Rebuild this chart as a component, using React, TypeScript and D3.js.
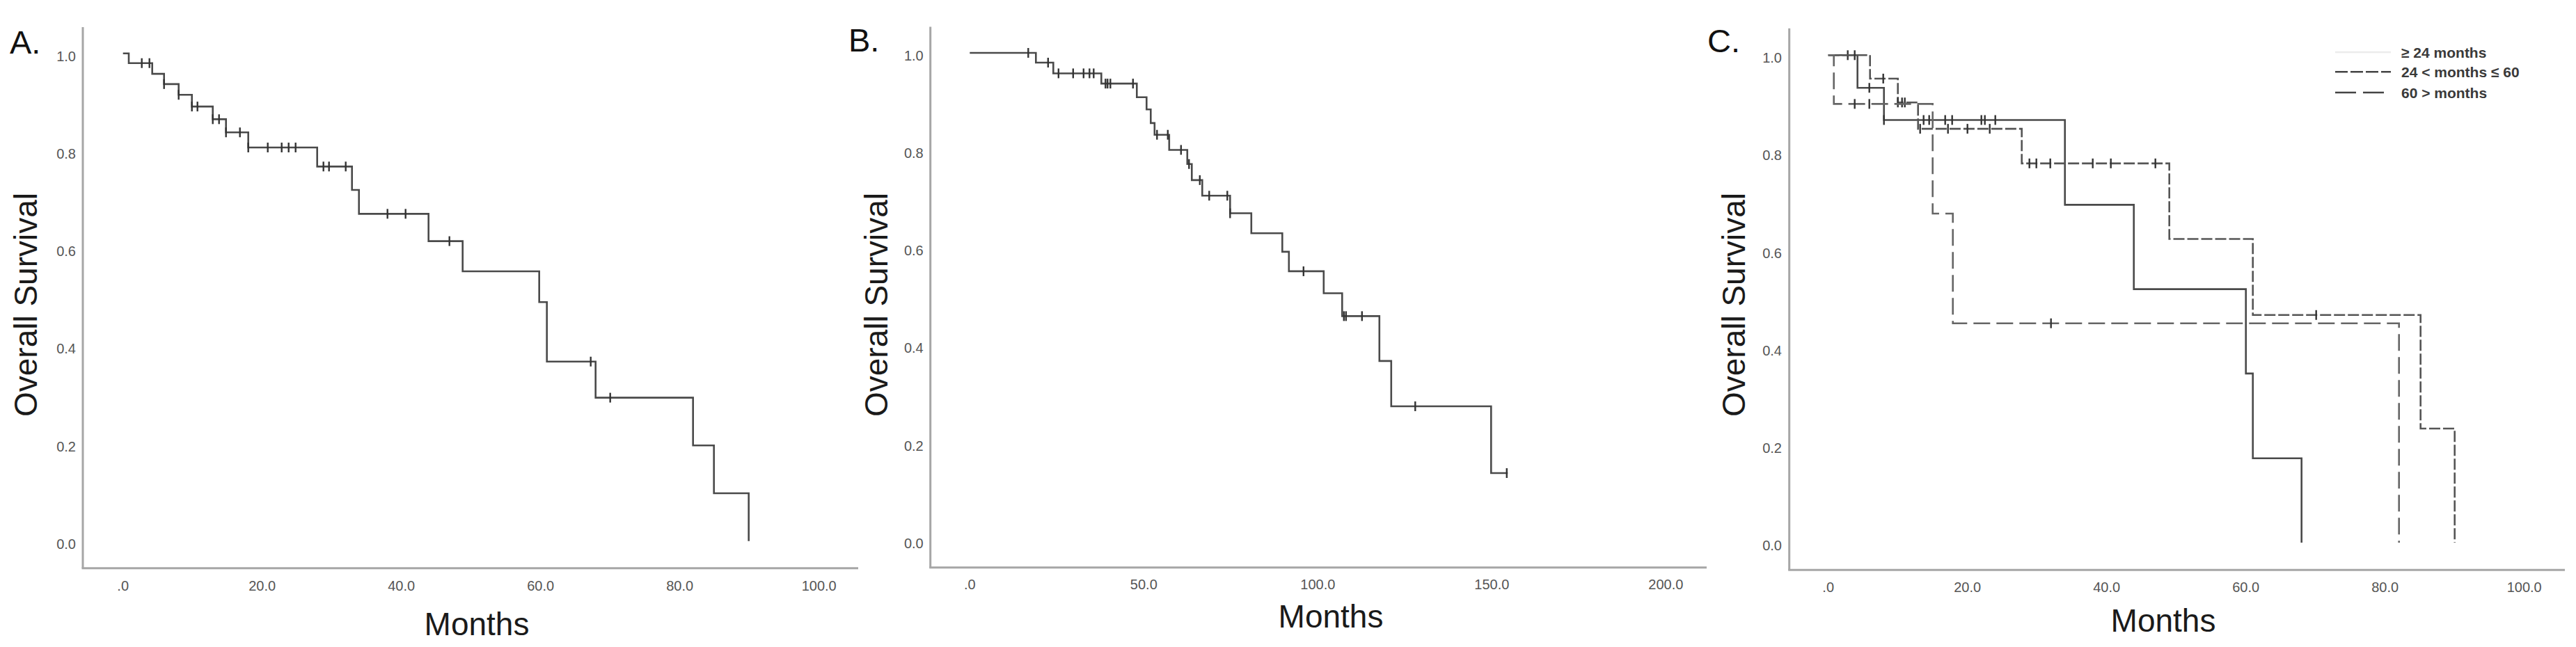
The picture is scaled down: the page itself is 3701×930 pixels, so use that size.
import React from "react";
import * as d3 from "d3";

// ---------- DATA ----------
const yTicks = [0, 0.2, 0.4, 0.6, 0.8, 1.0];
const xTicksA = [0, 20, 40, 60, 80, 100];
const xTicksB = [0, 50, 100, 150, 200];
const xTicksC = [0, 20, 40, 60, 80, 100];

// Panel A
const eventTimesA = [0.83, 4.2, 5.9, 8.0, 9.9, 12.9, 14.8, 18.0, 27.9, 32.9, 33.9, 43.9, 48.8, 59.8, 60.9, 67.9, 81.9, 84.9, 89.9];
const survA = [0.98, 0.958, 0.937, 0.915, 0.891, 0.865, 0.838, 0.807, 0.768, 0.72, 0.671, 0.615, 0.553, 0.49, 0.368, 0.294, 0.196, 0.098, 0.0];
const censorA = [2.7, 3.8, 5.9, 8.0, 9.9, 10.7, 12.9, 13.8, 14.8, 16.8, 18.0, 20.8, 22.8, 23.8, 24.8, 28.8, 29.6, 32.0, 38.0, 40.6, 46.9, 67.2, 70.0];
const endA = 89.9;

// Panel B
const eventTimesB = [19.0, 24.0, 37.8, 48.0, 50.8, 52.0, 53.1, 57.3, 62.5, 63.8, 66.8, 74.8, 80.9, 89.8, 91.7, 101.7, 107.0, 117.7, 121.1, 149.8];
const survB = [0.98, 0.958, 0.937, 0.909, 0.884, 0.856, 0.832, 0.801, 0.772, 0.739, 0.707, 0.671, 0.63, 0.592, 0.552, 0.507, 0.46, 0.368, 0.275, 0.138];
const censorB = [16.8, 22.5, 25.5, 29.7, 32.7, 34.4, 35.6, 39.0, 39.6, 40.4, 46.9, 53.8, 56.9, 60.7, 63.0, 66.1, 68.8, 74.0, 74.8, 95.9, 107.5, 108.1, 112.7, 128.0, 154.3];
const endB = 154.6;

// Panel C
const groupNames = ["\u2265 24 months", "24 < months \u2264 60", "60 > months"];
const eventTimesC1 = [4.2, 8.0, 34.0, 43.9, 60.0, 61.0, 68.0];
const survC1 = [0.933, 0.867, 0.693, 0.52, 0.347, 0.173, 0.0];
const censorC1 = [2.8, 3.8, 5.9, 8.0, 13.7, 14.5, 16.8, 17.8, 22.0, 22.5, 24.0];
const eventTimesC2 = [6.0, 10.0, 12.9, 27.8, 49.0, 61.0, 85.1, 90.0];
const survC2 = [0.952, 0.903, 0.849, 0.778, 0.623, 0.467, 0.234, 0.0];
const censorC2 = [7.9, 10.0, 10.6, 11.0, 13.2, 17.2, 20.0, 23.2, 28.9, 29.9, 31.9, 38.0, 40.6, 47.0, 70.1];
const eventTimesC3 = [0.8, 15.0, 17.9, 82.0];
const survC3 = [0.9, 0.675, 0.45, 0.0];
const censorC3 = [3.8, 5.9, 32.0];

// ---------- HELPERS ----------
const FONT = "'Liberation Sans', Arial, Helvetica, sans-serif";
const fmtX = (v: number) => (v === 0 ? ".0" : d3.format(".1f")(v));
const fmtY = d3.format(".1f");

function survAt(times: number[], surv: number[], t: number) {
  let s = 1;
  for (let i = 0; i < times.length; i++) if (t >= times[i] - 0.05) s = surv[i];
  return s;
}

type Series = {
  times: number[];
  surv: number[];
  censors: number[];
  end: number;
  dash?: string;
  color: string;
};

type PanelCfg = {
  letter: string;
  letterX: number;
  letterY: number;
  axisX: number;
  axisTop: number;
  axisY: number;
  axisRight: number;
  xDomain: [number, number];
  xRange: [number, number];
  yRange: [number, number];
  xTicks: number[];
  xLabelY: number;
  yLabelX: number;
  titleX: number;
  monthsX: number;
  monthsY: number;
  series: Series[];
};

function Panel({ cfg }: { cfg: PanelCfg }) {
  const x = d3.scaleLinear().domain(cfg.xDomain).range(cfg.xRange);
  const y = d3.scaleLinear().domain([0, 1]).range(cfg.yRange);
  const line = d3
    .line<[number, number]>()
    .x((d) => x(d[0]))
    .y((d) => y(d[1]))
    .curve(d3.curveStepAfter);
  return (
    <g>
      <text x={cfg.letterX} y={cfg.letterY} fontFamily={FONT} fontSize={47} fill="#111">
        {cfg.letter}
      </text>
      {/* axes */}
      <line x1={cfg.axisX} x2={cfg.axisX} y1={cfg.axisTop} y2={cfg.axisY} stroke="#a6a6a6" strokeWidth={3} />
      <line x1={cfg.axisX - 1.5} x2={cfg.axisRight} y1={cfg.axisY} y2={cfg.axisY} stroke="#a6a6a6" strokeWidth={3} />
      {yTicks.map((v) => (
        <text key={"y" + v} x={cfg.yLabelX} y={y(v) + 4} textAnchor="end" dominantBaseline="central" fontFamily={FONT} fontSize={20} fill="#555">
          {fmtY(v)}
        </text>
      ))}
      {cfg.xTicks.map((v) => (
        <text key={"x" + v} x={x(v)} y={cfg.xLabelY} textAnchor="middle" dominantBaseline="central" fontFamily={FONT} fontSize={20} fill="#555">
          {fmtX(v)}
        </text>
      ))}
      <text transform={`translate(${cfg.titleX},438) rotate(-90)`} textAnchor="middle" fontFamily={FONT} fontSize={46} fill="#1a1a1a">
        Overall Survival
      </text>
      <text x={cfg.monthsX} y={cfg.monthsY} textAnchor="middle" fontFamily={FONT} fontSize={46} fill="#1a1a1a">
        Months
      </text>
      {cfg.series.map((s, i) => {
        const pts: [number, number][] = [[0, 1]];
        s.times.forEach((t, j) => pts.push([t, s.surv[j]]));
        const last = s.surv[s.surv.length - 1];
        if (s.end > s.times[s.times.length - 1]) pts.push([s.end, last]);
        return (
          <g key={i}>
            <path d={line(pts) || ""} fill="none" stroke={s.color} strokeWidth={2.6} strokeDasharray={s.dash} />
            {s.censors.map((c, k) => {
              const sv = survAt(s.times, s.surv, c);
              return (
                <line key={k} x1={x(c)} x2={x(c)} y1={y(sv) - 7} y2={y(sv) + 7} stroke="#333" strokeWidth={2.4} />
              );
            })}
          </g>
        );
      })}
    </g>
  );
}

const panels: PanelCfg[] = [
  {
    letter: "A.",
    letterX: 14,
    letterY: 77,
    axisX: 119,
    axisTop: 39,
    axisY: 816.7,
    axisRight: 1233,
    xDomain: [0, 100],
    xRange: [176.7, 1176.7],
    yRange: [777.7, 76.7],
    xTicks: xTicksA,
    xLabelY: 841.7,
    yLabelX: 109,
    titleX: 53,
    monthsX: 685,
    monthsY: 913,
    series: [{ times: eventTimesA, surv: survA, censors: censorA, end: endA, color: "#4a4a4a" }],
  },
  {
    letter: "B.",
    letterX: 1219,
    letterY: 74,
    axisX: 1336.7,
    axisTop: 38.5,
    axisY: 815.7,
    axisRight: 2452,
    xDomain: [0, 200],
    xRange: [1393.3, 2393.3],
    yRange: [776.7, 76],
    xTicks: xTicksB,
    xLabelY: 840,
    yLabelX: 1326.7,
    titleX: 1275,
    monthsX: 1912,
    monthsY: 902,
    series: [{ times: eventTimesB, surv: survB, censors: censorB, end: endB, color: "#4a4a4a" }],
  },
  {
    letter: "C.",
    letterX: 2453,
    letterY: 75,
    axisX: 2570.7,
    axisTop: 40.7,
    axisY: 819.3,
    axisRight: 3685,
    xDomain: [0, 100],
    xRange: [2626.7, 3626.7],
    yRange: [780, 79.3],
    xTicks: xTicksC,
    xLabelY: 844,
    yLabelX: 2560,
    titleX: 2507,
    monthsX: 3108,
    monthsY: 908,
    series: [
      { times: eventTimesC1, surv: survC1, censors: censorC1, end: 68.0, color: "#4a4a4a" },
      { times: eventTimesC2, surv: survC2, censors: censorC2, end: 90.0, color: "#555", dash: "16 4" },
      { times: eventTimesC3, surv: survC3, censors: censorC3, end: 82.0, color: "#666", dash: "24 9" },
    ],
  },
];

const legendDash = [undefined, "18 4", "30 10"];
const legendColor = ["#ececec", "#444", "#444"];
const legendRowsY = [75, 103.3, 133];

export default function App() {
  return (
    <svg
      width={3701}
      height={930}
      viewBox="0 0 3701 930"
      style={{ position: "absolute", left: 0, top: 0, background: "#fff" }}
    >
      <rect x={0} y={0} width={3701} height={930} fill="#fff" />
      {panels.map((p) => (
        <Panel key={p.letter} cfg={p} />
      ))}
      {groupNames.map((name, i) => (
        <g key={name}>
          <line x1={3355} x2={3435} y1={legendRowsY[i]} y2={legendRowsY[i]} stroke={legendColor[i]} strokeWidth={2.6} strokeDasharray={legendDash[i]} />
          <text x={3450} y={legendRowsY[i]} dominantBaseline="central" fontFamily={FONT} fontWeight="bold" fontSize={21} fill="#3a3a3a">
            {name}
          </text>
        </g>
      ))}
    </svg>
  );
}
